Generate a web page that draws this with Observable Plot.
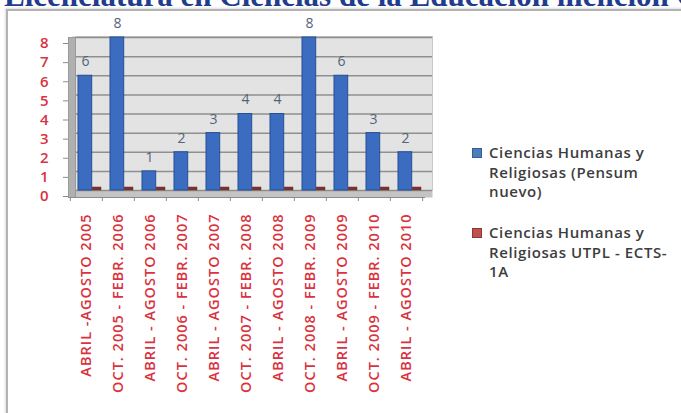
<!DOCTYPE html>
<html>
<head>
<meta charset="utf-8">
<script src="https://cdn.jsdelivr.net/npm/d3@7"></script>
<script src="https://cdn.jsdelivr.net/npm/@observablehq/plot@0.6"></script>
<style>
  html, body { margin: 0; padding: 0; background: #fff; }
  #page { position: relative; width: 681px; height: 413px; overflow: hidden; background: #fff; }
  #title { position: absolute; left: 4px; top: -20px; white-space: nowrap;
    font-family: "Liberation Serif", serif; font-weight: bold; font-size: 31px; line-height: 32px; color: #1f3d8c; }
  #box { position: absolute; left: 6px; top: 9px; width: 720px; height: 440px;
    border-left: 2px solid #b3b3b3; border-top: 2px solid #b3b3b3; box-shadow: -1px -1px 2px #ddd; }
  #chart { position: absolute; left: 0; top: 0; }
  #chart g[aria-label="x-axis tick label"] text { letter-spacing: 1px; }
  .leg { position: absolute; left: 472px; font-family: "Open Sans", sans-serif; font-weight: 600;
    font-size: 15px; letter-spacing: 0.6px; line-height: 19.7px; color: #3d3d3d; }
  .leg .sw { position: absolute; left: 0; top: 5px; width: 10px; height: 10px; }
  .leg .tx { position: absolute; left: 17px; top: 0; white-space: nowrap; }
</style>
</head>
<body>
<div id="page">
  <div id="title"></div>
  <div id="box"></div>
  <div id="chart"></div>
  <div id="legend"></div>
</div>
<script>
const titleText = "Licenciatura en Ciencias de la Educación mención Ciencias Humanas y Religiosas";
const periods = [
  "ABRIL -AGOSTO 2005", "OCT. 2005 - FEBR. 2006", "ABRIL - AGOSTO 2006",
  "OCT. 2006 - FEBR. 2007", "ABRIL - AGOSTO 2007", "OCT. 2007 - FEBR. 2008",
  "ABRIL - AGOSTO 2008", "OCT. 2008 - FEBR. 2009", "ABRIL - AGOSTO 2009",
  "OCT. 2009 - FEBR. 2010", "ABRIL - AGOSTO 2010"
];
const pensumNuevo = [6, 8, 1, 2, 3, 4, 4, 8, 6, 3, 2];
const utplEcts = [0, 0, 0, 0, 0, 0, 0, 0, 0, 0, 0];
const seriesNames = ["Ciencias Humanas y Religiosas (Pensum nuevo)", "Ciencias Humanas y Religiosas UTPL - ECTS-1A"];
const legendLines = [
  ["Ciencias Humanas y", "Religiosas (Pensum", "nuevo)"],
  ["Ciencias Humanas y", "Religiosas UTPL - ECTS-", "1A"]
];
const yTicks = [0, 1, 2, 3, 4, 5, 6, 7, 8];

document.getElementById("title").textContent = titleText;

const blue = pensumNuevo.map((v, i) => ({period: periods[i], value: v, series: seriesNames[0]}));
const red = utplEcts.map((v, i) => ({period: periods[i], value: v, series: seriesNames[1]}));

const W = 460, H = 400, ML = 68, MR = 37, MT = 37, MB = 210;
const plotW = W - ML - MR;
const bw = plotW / periods.length;
const red_ = "#d8333e";

const chart = Plot.plot({
  width: W, height: H,
  marginLeft: ML, marginRight: MR, marginTop: MT, marginBottom: MB,
  style: {background: "transparent", overflow: "visible"},
  x: {type: "band", domain: periods, padding: 0, axis: null},
  y: {domain: [0, 8], axis: null},
  marks: [
    // back wall
    Plot.frame({fill: "#e3e3e3", stroke: "#c9c9c9", insetLeft: 7, insetRight: -9, insetTop: -1}),
    // floor
    Plot.frame({fill: "#c4c4c4", stroke: "none", insetTop: (H - MB - MT), insetBottom: -7, insetRight: -9}),
    // grid
    Plot.ruleY(yTicks, {stroke: "#8f8f8f", strokeWidth: 1.5, insetLeft: 4, insetRight: -9}),
    // left wall
    Plot.frame({fill: "#b0b0b0", stroke: "#9a9a9a", insetRight: plotW - 7, insetBottom: -7}),
    // blue bars
    Plot.barY(blue, {x: "period", y: "value", fill: "#3b6cc0", stroke: "#234f94", strokeWidth: 1,
      insetLeft: 8, insetRight: 10.3}),
    // red bars
    Plot.barY(red, {x: "period", y: "value", fill: "#7e3030", stroke: "#6e2a2a", strokeWidth: 0.5,
      insetLeft: 22.3, insetRight: 1, insetTop: -3}),
    // value labels
    Plot.text(blue, {x: "period", y: "value", text: d => String(d.value), dy: -14, dx: -1,
      fill: "#55617a", fontSize: 14, fontFamily: "Open Sans"}),
    // front bottom axis line
    Plot.ruleY([0], {stroke: "#8c8c8c", dy: 7, insetRight: -2}),
    // band boundary ticks
    Plot.ruleX(periods, {x: d => d, dx: -bw / 2, stroke: "#8c8c8c", insetTop: (H - MB - MT) + 7, insetBottom: -11}),
    Plot.ruleX(periods.slice(-1), {x: d => d, dx: bw / 2, stroke: "#8c8c8c", insetTop: (H - MB - MT) + 7, insetBottom: -11}),
    // y axis
    Plot.axisY({ticks: yTicks, tickSize: 5, tickPadding: 15, dy: 6, stroke: "#8c8c8c", fill: red_,
      fontSize: 15, fontFamily: "Open Sans", fontWeight: 600, tickFormat: d => String(d), label: null}),
    // x axis
    Plot.axisX({tickSize: 0, tickRotate: -90, tickPadding: 0, dy: 23, fill: red_, fontSize: 14.5,
      fontFamily: "Open Sans", fontWeight: 600, anchor: "bottom", label: null})
  ]
});
document.getElementById("chart").appendChild(chart);

const legColors = ["#4a7ebf", "#c0504d"];
const legTops = [143, 223];
const legend = document.getElementById("legend");
legendLines.forEach((lines, i) => {
  const d = document.createElement("div");
  d.className = "leg";
  d.style.top = legTops[i] + "px";
  const sw = document.createElement("div");
  sw.className = "sw";
  sw.style.background = legColors[i];
  sw.style.border = "1px solid " + (i ? "#8c3836" : "#385d8a");
  sw.style.boxSizing = "border-box";
  d.appendChild(sw);
  const tx = document.createElement("div");
  tx.className = "tx";
  tx.innerHTML = lines.map(s => s.replace(/&/g, "&amp;")).join("<br>");
  d.appendChild(tx);
  legend.appendChild(d);
});
</script>
</body>
</html>
